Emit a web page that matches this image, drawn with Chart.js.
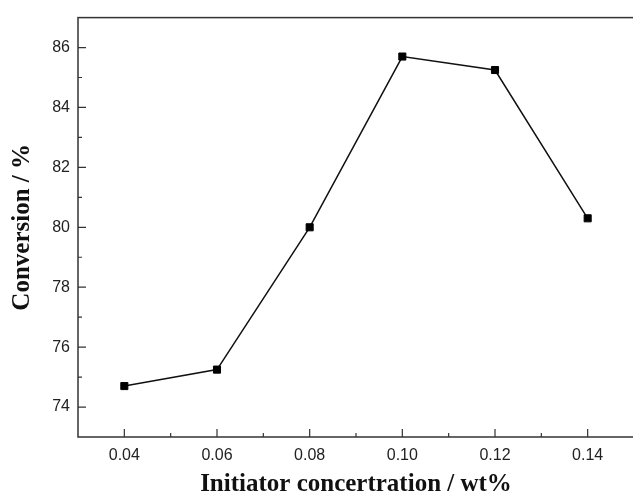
<!DOCTYPE html>
<html>
<head>
<meta charset="utf-8">
<script src="https://cdn.jsdelivr.net/npm/chart.js@4/dist/chart.umd.min.js"></script>
<style>
  html, body { margin: 0; padding: 0; background: #fff; overflow: hidden; }
</style>
</head>
<body>
<canvas id="canvas" width="640" height="497"></canvas>
<script>
// data
var concentration = [0.04, 0.06, 0.08, 0.10, 0.12, 0.14];
var conversion = [74.7, 75.25, 80.0, 85.7, 85.25, 80.3];

// tick positions
var xMajor = [0.04, 0.06, 0.08, 0.10, 0.12, 0.14];
var xMinor = [0.05, 0.07, 0.09, 0.11, 0.13];
var yMajor = [74, 76, 78, 80, 82, 84, 86];
var yMinor = [75, 77, 79, 81, 83, 85];

var axisColor = '#333';

// frame + inward ticks
var framePlugin = {
    id: 'frame',
    afterDraw: function(chart) {
        var ctx = chart.ctx;
        var a = chart.chartArea;
        var xs = chart.scales.x, ys = chart.scales.y;
        ctx.save();
        ctx.strokeStyle = axisColor;
        ctx.lineWidth = 1.5;
        ctx.strokeRect(a.left, a.top, a.right - a.left, a.bottom - a.top);
        ctx.lineWidth = 1.2;
        ctx.beginPath();
        xMajor.forEach(function(v) {
            var px = xs.getPixelForValue(v);
            ctx.moveTo(px, a.bottom); ctx.lineTo(px, a.bottom - 8);
        });
        xMinor.forEach(function(v) {
            var px = xs.getPixelForValue(v);
            ctx.moveTo(px, a.bottom); ctx.lineTo(px, a.bottom - 4);
        });
        yMajor.forEach(function(v) {
            var py = ys.getPixelForValue(v);
            ctx.moveTo(a.left, py); ctx.lineTo(a.left + 8, py);
        });
        yMinor.forEach(function(v) {
            var py = ys.getPixelForValue(v);
            ctx.moveTo(a.left, py); ctx.lineTo(a.left + 4, py);
        });
        ctx.stroke();
        ctx.restore();
    }
};

var ctx = document.getElementById('canvas').getContext('2d');
var myChart = new Chart(ctx, {
    type: 'line',
    data: {
        datasets: [{
            data: concentration.map(function(c, i) { return {x: c, y: conversion[i]}; }),
            borderColor: '#111',
            borderWidth: 1.5,
            backgroundColor: '#000',
            pointStyle: 'rect',
            pointRadius: 5,
            pointBorderWidth: 1,
            pointBorderColor: '#000',
            tension: 0
        }]
    },
    options: {
        responsive: false,
        animation: false,
        layout: { padding: { top: 14, right: 2, left: 0, bottom: 0 } },
        plugins: { legend: { display: false }, tooltip: { enabled: false } },
        scales: {
            x: {
                type: 'linear',
                min: 0.03,
                max: 0.15,
                afterBuildTicks: function(scale) {
                    scale.ticks = xMajor.map(function(v) { return {value: v}; });
                },
                afterFit: function(scale) { scale.height = 60; },
                grid: { display: false, drawTicks: false },
                border: { display: false },
                ticks: {
                    padding: 9,
                    color: '#222',
                    font: { family: 'Liberation Sans', size: 16 },
                    callback: function(v) { return v.toFixed(2); }
                },
                title: {
                    display: true,
                    text: 'Initiator concertration / wt%',
                    color: '#111',
                    font: { family: 'Liberation Serif', size: 25, weight: 'bold', lineHeight: 1 },
                    padding: { top: 0, bottom: 0 }
                }
            },
            y: {
                min: 73,
                max: 87,
                afterBuildTicks: function(scale) {
                    scale.ticks = yMajor.map(function(v) { return {value: v}; });
                },
                afterFit: function(scale) { scale.width = 78; },
                grid: { display: false, drawTicks: false },
                border: { display: false },
                ticks: {
                    padding: 8,
                    color: '#222',
                    font: { family: 'Liberation Sans', size: 16 }
                },
                title: {
                    display: true,
                    text: 'Conversion / %',
                    color: '#111',
                    font: { family: 'Liberation Serif', size: 25, weight: 'bold', lineHeight: 1 },
                    padding: { top: 10, bottom: 0 }
                }
            }
        }
    },
    plugins: [framePlugin]
});
</script>
</body>
</html>
